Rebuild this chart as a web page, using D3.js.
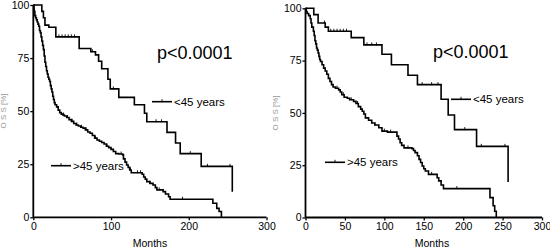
<!DOCTYPE html>
<html><head><meta charset="utf-8">
<script src="https://cdn.jsdelivr.net/npm/d3@7"></script>
<style>
html,body{margin:0;padding:0;background:#fff;}
svg{display:block;}
text{font-family:"Liberation Sans",Arial,Helvetica,sans-serif;}
</style></head><body>
<svg id="c" width="550" height="249"></svg>
<script>
// ---- data (months, survival %) ----
const xTicksLeft = [0, 100, 200, 300];
const xTicksRight = [0, 50, 100, 150, 200, 250, 300];
const yTicks = [0, 25, 50, 75, 100];
const groupLabels = ["<45 years", ">45 years"];
const pText = "p<0.0001";
const xTitle = "Months";
const yTitle = "O S S [%]";

const leftYoung = [[0,100],[11,97],[13,94],[15,90.5],[20,89.5],[29,85],[59,79.5],[74,78],[80,76.5],[84,73.5],[88,70],[96,65],[99,60.5],[110,56.5],[130,53],[143,49],[146,45],[172,40],[183,35],[189,30],[216,24],[256,12]];
const leftYoungCens = [33,37,41,45,49,53,76,103,158,165,202,224,253];
const leftOld = [[0,100],[1,97],[2,95],[3,94],[4,93],[5,92],[6,91],[7,90],[8,88],[9,87],[10,85],[11,83],[12,81],[13,79],[14,76],[15,73],[16,71],[17,69],[18,67.5],[19,66],[20,65],[21,64],[22,62],[23,60.5],[24,59],[25,57],[26,55.5],[27,54],[28,53],[30,52],[32,50.5],[34,49.3],[36,48.6],[38,48.2],[40,47.7],[43,47],[46,46],[49,45.2],[52,44.2],[55,43.5],[58,43],[61,42.4],[64,42],[67,41.2],[70,40.2],[73,39.6],[76,38.5],[79,37.3],[82,36.4],[85,35.8],[88,35.2],[91,34.5],[94,33.5],[97,32.8],[100,32],[103,31],[106,30],[110,29.8],[115,29.4],[116,27.5],[118,26],[120,24.6],[122,23.5],[124,22.3],[126,21],[140,20.3],[142,19],[144,18],[146,16.8],[150,16],[154,15.2],[157,14],[159,12.9],[167,12.1],[170,11],[174,9.7],[176,8.5],[231,6.6],[236,4.2],[239,2.7],[242,0]];
const leftOldCens = [39,44,50,56,62,68,80,95,113,125,134,138,150,162,192];

const rightYoung = [[0,100],[10.5,97],[16,93],[25,91],[29,89],[58,86],[74,82.5],[97,78],[109,73],[130,68],[142,63.5],[172,56.5],[181,49],[189,42],[217,34],[257,17]];
const rightYoungCens = [24,32,36,40,44,48,52,78,84,90,148,160,168,202,223,253];
const rightOld = [[0,100],[1,98.5],[2,97.5],[4,96.5],[6,95],[7,93],[8,91],[10,89],[11,87],[12,84.5],[13,83],[14,81],[15,80],[16,78.6],[17,77],[18,75.5],[19,74.6],[21,73],[23,71.4],[25,70],[27,68.5],[29,66.5],[31,65],[33,63.5],[35,62.4],[38,61.8],[42,61],[44,60],[46,58.7],[49,57.5],[53,57],[56,56.3],[61,55.5],[64,54.5],[67,53],[70,51.8],[72,50.8],[74,49.5],[76,47.6],[80,46.5],[84,45.2],[88,44.2],[93,42.9],[97,41.3],[104,40.8],[116,38.9],[118,37.5],[120,35.7],[122,34.5],[125,33.3],[135,32.9],[137,32],[139,31],[142,29.5],[144,27.8],[146,26.3],[148,24.6],[150,23.3],[152,22.2],[156,20.6],[167,19],[169,17.5],[172,15.5],[175,13.8],[234,9.5],[238,5.6],[240,3],[242,0]];
const rightOldCens = [40,48,58,66,80,88,100,108,130,160,192];

// ---- layout ----
const svg = d3.select("#c");
const panels = [
  {xr:[33.3,266.5], yr:[217.3,5], ticks:xTicksLeft, young:leftYoung, yc:leftYoungCens, old:leftOld, oc:leftOldCens,
   p:[157,59], legY:[152,101.7], legO:[51,165.7], ytx:6, yty:111, mx:150},
  {xr:[305.5,542], yr:[217.5,8.3], ticks:xTicksRight, young:rightYoung, yc:rightYoungCens, old:rightOld, oc:rightOldCens,
   p:[433,58], legY:[451,99.3], legO:[325,162.3], ytx:278, yty:113, mx:432}
];

function survAt(data, t){
  let s = data[0][1];
  for (const d of data){ if (d[0] <= t) s = d[1]; else break; }
  return s;
}

panels.forEach(P => {
  const x = d3.scaleLinear().domain([0,300]).range(P.xr);
  const y = d3.scaleLinear().domain([0,100]).range(P.yr);
  const g = svg.append("g");

  const xa = g.append("g").attr("transform",`translate(0,${P.yr[0]})`)
    .call(d3.axisBottom(x).tickValues(P.ticks).tickSize(3).tickPadding(2).tickFormat(d3.format("d")));
  const ya = g.append("g").attr("transform",`translate(${P.xr[0]},0)`)
    .call(d3.axisLeft(y).tickValues(yTicks).tickSize(3).tickPadding(1).tickFormat(d3.format("d")));
  [xa,ya].forEach(a=>{
    a.select(".domain").attr("stroke","#000").attr("stroke-width",1.8);
    a.selectAll(".tick line").attr("stroke","#000").attr("stroke-width",1.3);
    a.selectAll(".tick text").attr("fill","#000").style("font-size","10.5px");
  });
  xa.select(".domain").attr("d",`M${P.xr[0]},0H${P.xr[1]}`);
  ya.select(".domain").attr("d",`M0,${P.yr[0]}V${P.yr[1]}`);

  const line = d3.line().x(d=>x(d[0])).y(d=>y(d[1])).curve(d3.curveStepAfter);
  [[P.young,P.yc],[P.old,P.oc]].forEach(([data,cens])=>{
    g.append("path").attr("d",line(data)).attr("fill","none").attr("stroke","#000").attr("stroke-width",1.6);
    g.selectAll(null).data(cens).enter().append("line")
      .attr("x1",d=>x(d)).attr("x2",d=>x(d))
      .attr("y1",d=>y(survAt(data,d))-2.5).attr("y2",d=>y(survAt(data,d))+0.5)
      .attr("stroke","#000").attr("stroke-width",0.9);
  });

  g.append("text").attr("x",P.p[0]).attr("y",P.p[1]).text(pText).style("font-size","18px").attr("fill","#000");

  [[P.legY,groupLabels[0]],[P.legO,groupLabels[1]]].forEach(([pos,lab])=>{
    g.append("line").attr("x1",pos[0]).attr("x2",pos[0]+20).attr("y1",pos[1]).attr("y2",pos[1]).attr("stroke","#000").attr("stroke-width",1.6);
    g.append("line").attr("x1",pos[0]+10).attr("x2",pos[0]+10).attr("y1",pos[1]-2.5).attr("y2",pos[1]).attr("stroke","#000").attr("stroke-width",0.9);
    g.append("text").attr("x",pos[0]+22).attr("y",pos[1]+4).text(lab).style("font-size","11.5px").attr("fill","#000");
  });

  g.append("text").attr("x",P.mx).attr("y",247).attr("text-anchor","middle")
    .text(xTitle).style("font-size","10.5px").attr("fill","#000");
  g.append("text").attr("transform",`translate(${P.ytx},${P.yty}) rotate(-90)`).attr("text-anchor","middle")
    .text(yTitle).style("font-size","8px").attr("fill","#999");
});
</script>
</body></html>
